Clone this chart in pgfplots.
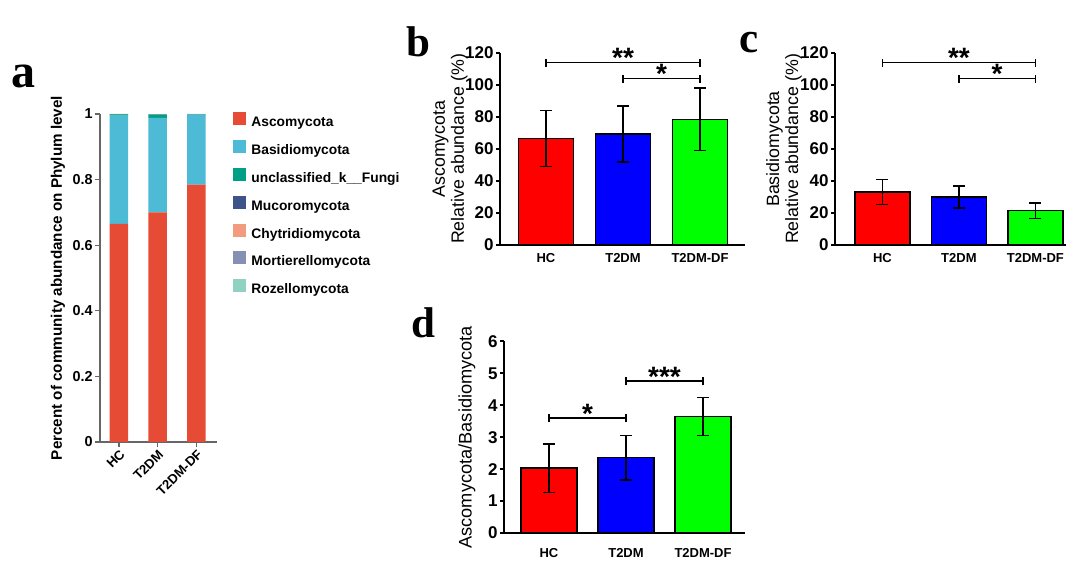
\documentclass[border=0pt]{standalone}
\usepackage{pgfplots}
\pgfplotsset{compat=1.18}
\usepackage{fontspec}
\setmainfont{Liberation Sans}
\newfontfamily\serifb{Liberation Serif}

\definecolor{asc}{HTML}{E64B35}
\definecolor{bas}{HTML}{4DBBD5}
\definecolor{unc}{HTML}{00A087}
\definecolor{muc}{HTML}{3C5488}
\definecolor{chy}{HTML}{F39B7F}
\definecolor{mor}{HTML}{8491B4}
\definecolor{roz}{HTML}{91D1C2}

\pgfplotsset{
  bcd/.style={
    anchor=south west, scale only axis, clip=false,
    axis lines=left, axis line style={-, line width=1pt, black},
    ymin=0, xtick={0,1,2}, xticklabels={HC,T2DM,T2DM-DF},
    xtick style={draw=none},
    ytick style={line width=1pt, black},
    tick align=outside, major tick length=2pt,
    /pgf/number format/assume math mode=true,
    yticklabel style={font=\bfseries\fontsize{8.5}{10}\selectfont, inner sep=1pt},
    xticklabel style={font=\bfseries\fontsize{6.5}{8}\selectfont, anchor=center},
    ylabel style={font=\fontsize{8.9}{9.5}\selectfont, align=center, anchor=center},
  },
  ebar/.style={ybar, bar shift=0pt, draw=black, line width=0.75pt,
    error bars/y dir=both, error bars/y explicit,
    error bars/error bar style={line width=0.75pt, black},
    error bars/error mark options={rotate=90, mark size=3pt, line width=0.75pt, black}},
}
\newcommand{\sig}[6]{%
  \draw[line width=#6] (axis cs:#1,#4) -- (axis cs:#2,#4);
  \draw[line width=#6] (axis cs:#1,#4) ++(0pt,-2pt) -- ++(0pt,4pt);
  \draw[line width=#6] (axis cs:#2,#4) ++(0pt,-2pt) -- ++(0pt,4pt);
  \node[anchor=base, inner sep=0pt, font=\bfseries\fontsize{14}{14}\selectfont, yshift=-2.6pt] at (axis cs:#3,#4) {#5};
}

\begin{document}
\begin{tikzpicture}
\path[use as bounding box] (0,0) rectangle (540pt,290.5pt);

% panel letters
\node[anchor=base west, inner sep=0pt, font=\serifb\bfseries\fontsize{24}{24}\selectfont] at (5.5pt,246.5pt) {a};
\node[anchor=base west, inner sep=0pt, font=\serifb\bfseries\fontsize{21.5}{22}\selectfont] at (203pt,262pt) {b};
\node[anchor=base west, inner sep=0pt, font=\serifb\bfseries\fontsize{21.5}{22}\selectfont] at (369.5pt,264pt) {c};
\node[anchor=base west, inner sep=0pt, font=\serifb\bfseries\fontsize{21.5}{22}\selectfont] at (205.5pt,121.5pt) {d};

% ---------------- panel a
\begin{axis}[
  at={(50pt,69.5pt)}, anchor=south west, scale only axis,
  width=58.5pt, height=164pt,
  ybar stacked, bar width=9.25pt,
  ymin=0, ymax=1, xmin=-0.49, xmax=2.53,
  axis lines=left, axis line style={-, black!60, line width=0.6pt},
  tick align=outside, major tick length=2.5pt,
  tick style={black!60, line width=0.6pt},
  xtick={0,1,2}, xticklabels={HC,T2DM,T2DM-DF},
  xticklabel style={rotate=45, anchor=north east, font=\bfseries\fontsize{6.6}{8}\selectfont, inner sep=0.5pt},
  ytick={0,0.2,0.4,0.6,0.8,1},
  yticklabel style={font=\bfseries\fontsize{7.2}{8}\selectfont, inner sep=1pt},
  /pgf/number format/assume math mode=true,
  ylabel={Percent of community abundance on Phylum level},
  ylabel style={font=\bfseries\fontsize{7.6}{9}\selectfont, at={(axis description cs:-0.36,0.5)}, anchor=center},
  legend cell align=left,
  legend style={at={(1.137,1.0075)}, anchor=north west, draw=none, fill=none,
    inner sep=0pt, row sep=5.2pt, font=\bfseries\fontsize{6.9}{8}\selectfont,
    nodes={inner sep=0pt, text height=5pt, text depth=1.5pt}},
  /tikz/every odd column/.style={column sep=2.5pt},
  legend image code/.code={\fill[#1] (0pt,-1pt) rectangle (6.5pt,5.5pt);},
]
\addplot[fill=asc, draw=none] coordinates {(0,0.665) (1,0.700) (2,0.785)};
\addplot[fill=bas, draw=none] coordinates {(0,0.330) (1,0.288) (2,0.213)};
\addplot[fill=unc, draw=none] coordinates {(0,0.004) (1,0.010) (2,0.001)};
\addplot[fill=muc, draw=none] coordinates {(0,0.0005) (1,0.001) (2,0.0005)};
\addplot[fill=chy, draw=none] coordinates {(0,0.0003) (1,0.0005) (2,0.0003)};
\addplot[fill=mor, draw=none] coordinates {(0,0.0001) (1,0.0002) (2,0.0001)};
\addplot[fill=roz, draw=none] coordinates {(0,0.0001) (1,0.0001) (2,0.0001)};
\addlegendentry{Ascomycota}
\addlegendentry{Basidiomycota}
\addlegendentry{unclassified\_k\_\_Fungi}
\addlegendentry{Mucoromycota}
\addlegendentry{Chytridiomycota}
\addlegendentry{Mortierellomycota}
\addlegendentry{Rozellomycota}
\end{axis}

% ---------------- panel b
\begin{axis}[bcd,
  at={(250pt,168pt)}, width=122.5pt, height=96pt,
  xmin=-0.597, xmax=2.584, ymax=120, ytick={0,20,...,120},
  xticklabel style={yshift=-4.5pt},
  ylabel={Ascomycota\\Relative abundance (\%)},
  ylabel style={at={(axis description cs:-0.204,0.5)}},
]
\addplot[ebar, fill=red, bar width=27.5pt] coordinates {(0,66.7) +- (0,17.5)};
\addplot[ebar, fill=blue, bar width=27.5pt] coordinates {(1,69.5) +- (0,17.5)};
\addplot[ebar, fill=green, bar width=27.5pt] coordinates {(2,78.5) +- (0,19.5)};
\sig{0}{2}{1}{114}{**}{0.9pt}
\sig{1}{2}{1.5}{104}{*}{0.7pt}
\end{axis}

% ---------------- panel c
\begin{axis}[bcd,
  at={(417.5pt,168pt)}, width=115.5pt, height=96pt,
  xmin=-0.62, xmax=2.40, ymax=120, ytick={0,20,...,120},
  xticklabel style={yshift=-4.5pt},
  ylabel={Basidiomycota\\Relative abundance (\%)},
  ylabel style={at={(axis description cs:-0.221,0.5)}},
]
\addplot[ebar, fill=red, bar width=27.5pt] coordinates {(0,33) +- (0,7.8)};
\addplot[ebar, fill=blue, bar width=27.5pt] coordinates {(1,30) +- (0,6.8)};
\addplot[ebar, fill=green, bar width=27.5pt] coordinates {(2,21.5) +- (0,4.8)};
\sig{0}{2}{1}{114}{**}{0.9pt}
\sig{1}{2}{1.5}{104}{*}{0.7pt}
\end{axis}

% ---------------- panel d
\begin{axis}[bcd,
  at={(252pt,24pt)}, width=120.5pt, height=95.75pt,
  xmin=-0.584, xmax=2.545, ymax=6, ytick={0,1,...,6},
  xticklabel style={yshift=-8pt},
  ylabel={Ascomycota/Basidiomycota},
  ylabel style={font=\fontsize{9.1}{10}\selectfont, at={(axis description cs:-0.1535,0.5)}},
]
\addplot[ebar, fill=red, bar width=28pt] coordinates {(0,2.03) +- (0,0.76)};
\addplot[ebar, fill=blue, bar width=28pt] coordinates {(1,2.36) +- (0,0.70)};
\addplot[ebar, fill=green, bar width=28pt] coordinates {(2,3.65) +- (0,0.60)};
\sig{0}{1}{0.5}{3.6}{*}{0.7pt}
\sig{1}{2}{1.5}{4.75}{***}{0.9pt}
\end{axis}
\end{tikzpicture}
\end{document}
